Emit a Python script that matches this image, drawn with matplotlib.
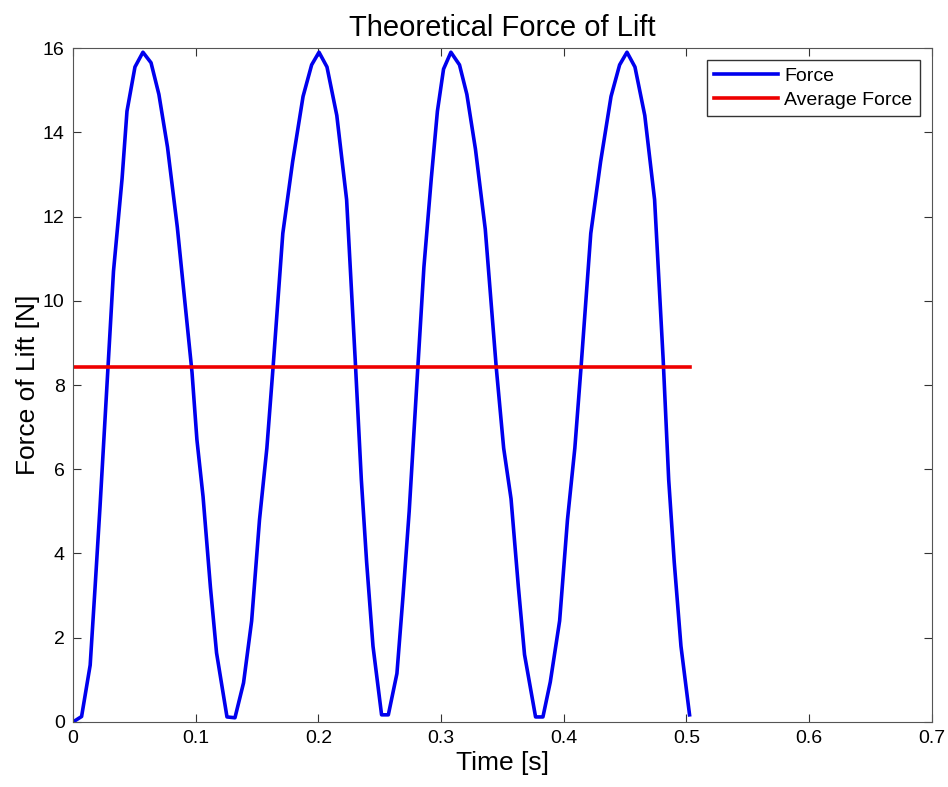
from matplotlib import pyplot as plt

# values
t = [0.0, 0.007, 0.014, 0.018, 0.022, 0.033, 0.040, 0.044, 0.0505, 0.057,
     0.0636, 0.070, 0.077, 0.085, 0.097, 0.101, 0.106, 0.112, 0.117, 0.1255,
     0.132, 0.139, 0.1456, 0.152, 0.158, 0.163, 0.171, 0.179, 0.1875, 0.1945,
     0.2005, 0.207, 0.215, 0.223, 0.230, 0.235, 0.2393, 0.2445, 0.2515, 0.257,
     0.264, 0.269, 0.274, 0.281, 0.286, 0.292, 0.297, 0.302, 0.308,
     0.315, 0.321, 0.328, 0.336, 0.345, 0.351, 0.357, 0.363, 0.368, 0.377,
     0.383, 0.389, 0.3966, 0.403, 0.409, 0.414, 0.422, 0.430, 0.4385, 0.4455,
     0.4515, 0.458, 0.466, 0.474, 0.481, 0.4855, 0.490, 0.4955, 0.5025]
force = [0.0, 0.13, 1.35, 3.2, 5.1, 10.7, 12.9, 14.5, 15.55, 15.9,
         15.65, 14.9, 13.65, 11.75, 8.3, 6.7, 5.35, 3.2, 1.64, 0.12,
         0.1, 0.93, 2.4, 4.8, 6.5, 8.4, 11.6, 13.3, 14.85, 15.6,
         15.9, 15.55, 14.4, 12.4, 8.6, 5.75, 3.8, 1.8, 0.17, 0.17,
         1.15, 3.0, 5.0, 8.4, 10.8, 12.9, 14.5, 15.5, 15.9,
         15.6, 14.9, 13.6, 11.7, 8.4, 6.5, 5.3, 3.2, 1.6, 0.12,
         0.12, 0.95, 2.4, 4.8, 6.5, 8.4, 11.6, 13.3, 14.85, 15.6,
         15.9, 15.55, 14.4, 12.4, 8.6, 5.75, 3.8, 1.8, 0.17]
avg_t = [0.0, 0.5025]
avg_force = [8.42, 8.42]

plt.rcParams['font.family'] = ['Liberation Sans', 'DejaVu Sans']

fig = plt.figure(figsize=(9.48, 7.87), dpi=100)
ax = fig.add_axes([0.077, 0.0826, 0.906, 0.8564])

ax.plot(t, force, color='#0000ee', linewidth=2.6, label='Force')
ax.plot(avg_t, avg_force, color='#ee0000', linewidth=2.6, label='Average Force')

ax.set_xlim(0, 0.7)
ax.set_ylim(0, 16)
ax.set_xticks([0, 0.1, 0.2, 0.3, 0.4, 0.5, 0.6, 0.7])
ax.set_xticklabels(['0', '0.1', '0.2', '0.3', '0.4', '0.5', '0.6', '0.7'])
ax.set_yticks(range(0, 17, 2))
ax.tick_params(direction='in', top=True, right=True, labelsize=14, length=6,
               color='#333333', pad=6)
for s in ax.spines.values():
    s.set_color('#555555')

ax.set_title('Theoretical Force of Lift', fontsize=21, pad=9)
ax.set_xlabel('Time [s]', fontsize=19, labelpad=3)
ax.set_ylabel('Force of Lift [N]', fontsize=19, labelpad=2)

leg = ax.legend(loc='upper right', fontsize=14, fancybox=False, framealpha=1,
                edgecolor='#333333', borderaxespad=0.6, handlelength=3.3,
                labelspacing=0.3, borderpad=0.4, handletextpad=0.3)

fig.savefig('out.png', dpi=100)
